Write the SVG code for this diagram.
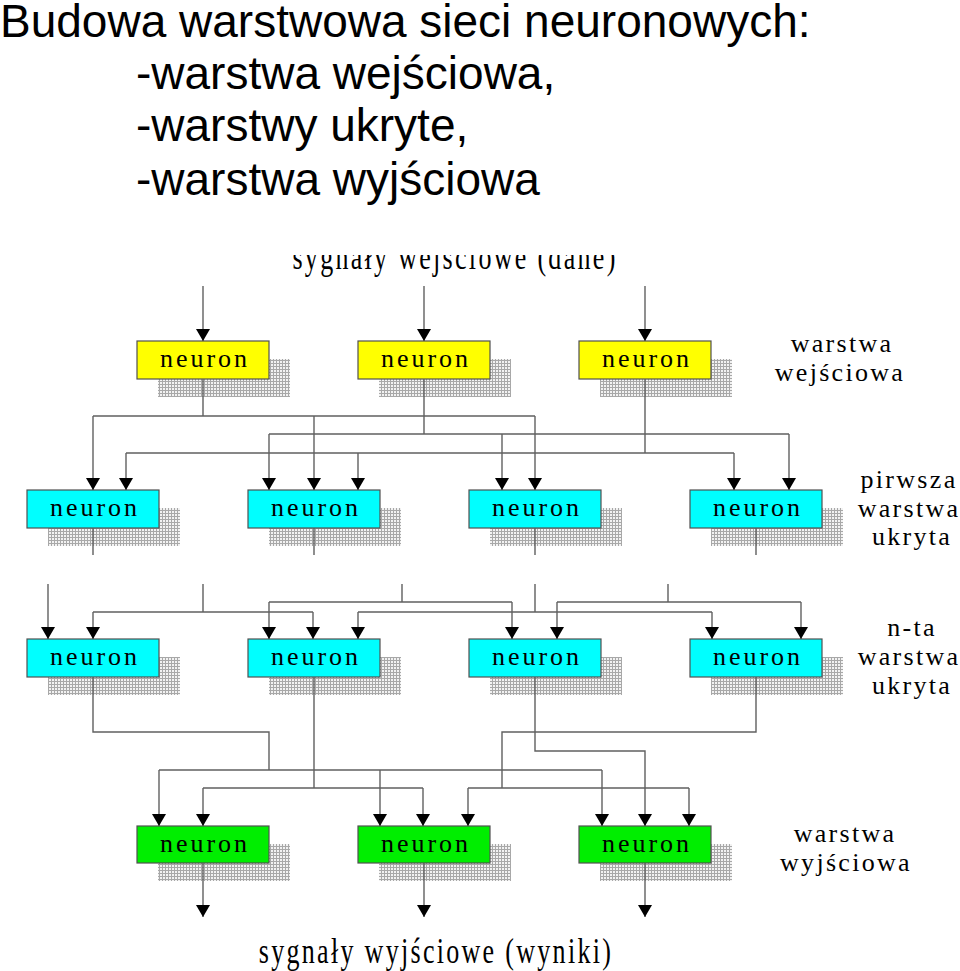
<svg xmlns="http://www.w3.org/2000/svg" width="960" height="971" viewBox="0 0 960 971">
<style>
.title{font-family:"Liberation Sans",Arial,sans-serif;font-size:46px;fill:#000}
.lbl{font-family:"Liberation Serif","Times New Roman",serif;font-size:26px;fill:#000;letter-spacing:2.3px;text-anchor:middle}
.ntext{font-family:"Liberation Serif","Times New Roman",serif;font-size:26px;fill:#000;letter-spacing:3px;text-anchor:middle}
.box{stroke:#505050;stroke-width:1.2}
.yel{fill:#ffff00}
.cyan{fill:#00ffff}
.grn{fill:#00ee00}
.shadow{fill:url(#hatch)}
.wire{fill:none;stroke:#606060;stroke-width:1.4}
.arr{fill:none;stroke:#606060;stroke-width:1.4;marker-end:url(#ah)}
</style>
<defs>
<pattern id="hatch" width="3" height="3" patternUnits="userSpaceOnUse">
<rect width="3" height="3" fill="#f2f2f2"/>
<path d="M0,0.5 H3 M0.5,0 V3" stroke="#a8a8a8" stroke-width="1"/>
</pattern>
<marker id="ah" markerUnits="userSpaceOnUse" markerWidth="12" markerHeight="14" refX="12" refY="7" orient="auto">
<path d="M0,0 L12,7 L0,14 z" fill="#000"/>
</marker>
<clipPath id="topclip"><rect x="0" y="255" width="960" height="40"/></clipPath>
</defs>
<rect width="960" height="971" fill="#fff"/>

<g id="title">
<text class="title" x="0" y="37">Budowa warstwowa sieci neuronowych:</text>
<text class="title" x="136" y="89">-warstwa wejściowa,</text>
<text class="title" x="136" y="141">-warstwy ukryte,</text>
<text class="title" x="136" y="195">-warstwa wyjściowa</text>
</g>

<g id="label-in" clip-path="url(#topclip)">
<text class="lbl" transform="translate(455,269) scale(1,1.4)">sygnały wejściowe (dane)</text>
</g>
<g id="label-out">
<text class="lbl" transform="translate(436,963) scale(1,1.4)">sygnały wyjściowe (wyniki)</text>
</g>

<g id="layer-labels">
<text class="lbl" x="842" y="352">warstwa</text>
<text class="lbl" x="840" y="381">wejściowa</text>
<text class="lbl" x="909" y="488">pirwsza</text>
<text class="lbl" x="909" y="517">warstwa</text>
<text class="lbl" x="912" y="545">ukryta</text>
<text class="lbl" x="912" y="636">n-ta</text>
<text class="lbl" x="909" y="665">warstwa</text>
<text class="lbl" x="912" y="694">ukryta</text>
<text class="lbl" x="845" y="842">warstwa</text>
<text class="lbl" x="846" y="871">wyjściowa</text>
</g>

<g id="in1"><rect class="shadow" x="158" y="359" width="132" height="38"/><rect class="box yel" x="137" y="341" width="132" height="38"/><text class="ntext" x="205" y="367">neuron</text></g>
<g id="in2"><rect class="shadow" x="379" y="359" width="132" height="38"/><rect class="box yel" x="358" y="341" width="132" height="38"/><text class="ntext" x="426" y="367">neuron</text></g>
<g id="in3"><rect class="shadow" x="600" y="359" width="132" height="38"/><rect class="box yel" x="579" y="341" width="132" height="38"/><text class="ntext" x="647" y="367">neuron</text></g>

<g id="h1a"><rect class="shadow" x="48" y="508" width="132" height="38"/><rect class="box cyan" x="27" y="490" width="132" height="38"/><text class="ntext" x="95" y="516">neuron</text></g>
<g id="h1b"><rect class="shadow" x="269" y="508" width="132" height="38"/><rect class="box cyan" x="248" y="490" width="132" height="38"/><text class="ntext" x="316" y="516">neuron</text></g>
<g id="h1c"><rect class="shadow" x="490" y="508" width="132" height="38"/><rect class="box cyan" x="469" y="490" width="132" height="38"/><text class="ntext" x="537" y="516">neuron</text></g>
<g id="h1d"><rect class="shadow" x="711" y="508" width="132" height="38"/><rect class="box cyan" x="690" y="490" width="132" height="38"/><text class="ntext" x="758" y="516">neuron</text></g>

<g id="hna"><rect class="shadow" x="48" y="657" width="132" height="38"/><rect class="box cyan" x="27" y="639" width="132" height="38"/><text class="ntext" x="95" y="665">neuron</text></g>
<g id="hnb"><rect class="shadow" x="269" y="657" width="132" height="38"/><rect class="box cyan" x="248" y="639" width="132" height="38"/><text class="ntext" x="316" y="665">neuron</text></g>
<g id="hnc"><rect class="shadow" x="490" y="657" width="132" height="38"/><rect class="box cyan" x="469" y="639" width="132" height="38"/><text class="ntext" x="537" y="665">neuron</text></g>
<g id="hnd"><rect class="shadow" x="711" y="657" width="132" height="38"/><rect class="box cyan" x="690" y="639" width="132" height="38"/><text class="ntext" x="758" y="665">neuron</text></g>

<g id="out1"><rect class="shadow" x="158" y="844" width="132" height="37"/><rect class="box grn" x="137" y="826" width="132" height="37"/><text class="ntext" x="205" y="852">neuron</text></g>
<g id="out2"><rect class="shadow" x="379" y="844" width="132" height="37"/><rect class="box grn" x="358" y="826" width="132" height="37"/><text class="ntext" x="426" y="852">neuron</text></g>
<g id="out3"><rect class="shadow" x="600" y="844" width="132" height="37"/><rect class="box grn" x="579" y="826" width="132" height="37"/><text class="ntext" x="647" y="852">neuron</text></g>

<g id="connectors">
<path class="arr" d="M203,286 V341"/>
<path class="arr" d="M424,286 V341"/>
<path class="arr" d="M645,286 V341"/>

<path class="wire" d="M203,379 V416 M93,416 H535"/>
<path class="arr" d="M93,416 V490"/>
<path class="arr" d="M314,416 V490"/>
<path class="arr" d="M535,416 V490"/>
<path class="wire" d="M424,379 V434 M269,434 H789"/>
<path class="arr" d="M269,434 V490"/>
<path class="arr" d="M502,434 V490"/>
<path class="arr" d="M789,434 V490"/>
<path class="wire" d="M645,379 V453 M126,453 H734"/>
<path class="arr" d="M126,453 V490"/>
<path class="arr" d="M358,453 V490"/>
<path class="arr" d="M734,453 V490"/>

<path class="wire" d="M93,528 V555 M314,528 V555 M535,528 V555 M756,528 V555"/>

<path class="arr" d="M48,584 V639"/>
<path class="wire" d="M203,584 V612 M93,612 H313"/>
<path class="arr" d="M93,612 V639"/>
<path class="arr" d="M313,612 V639"/>
<path class="wire" d="M402,584 V602 M269,602 H512"/>
<path class="arr" d="M269,602 V639"/>
<path class="arr" d="M512,602 V639"/>
<path class="wire" d="M535,584 V612 M358,612 H712"/>
<path class="arr" d="M358,612 V639"/>
<path class="arr" d="M712,612 V639"/>
<path class="wire" d="M668,584 V602 M557,602 H801"/>
<path class="arr" d="M557,602 V639"/>
<path class="arr" d="M801,602 V639"/>

<path class="wire" d="M93,677 V732 H269 V770 M159,770 H602"/>
<path class="arr" d="M159,770 V826"/>
<path class="arr" d="M380,770 V826"/>
<path class="arr" d="M602,770 V826"/>
<path class="wire" d="M314,677 V788 M203,788 H423"/>
<path class="arr" d="M203,788 V826"/>
<path class="arr" d="M423,788 V826"/>
<path class="arr" d="M535,677 V751 H645 V826"/>
<path class="wire" d="M756,677 V732 H502 V788 M468,788 H689"/>
<path class="arr" d="M468,788 V826"/>
<path class="arr" d="M689,788 V826"/>

<path class="arr" d="M203,863 V917"/>
<path class="arr" d="M424,863 V917"/>
<path class="arr" d="M645,863 V917"/>
</g>
</svg>
